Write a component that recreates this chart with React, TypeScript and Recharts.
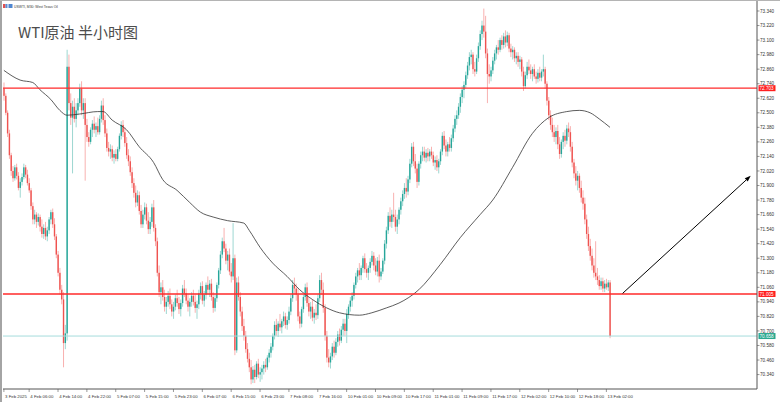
import React from 'react';
import { ComposedChart, Bar, Line, XAxis, YAxis, ReferenceLine } from 'recharts';

// USWTI M30 bars, [open, high, low, close]
const feb03 = [
  [72.70, 72.75, 72.60, 72.64], [72.64, 72.66, 72.48, 72.50], [72.50, 72.52, 72.30, 72.33], [72.33, 72.36, 72.12, 72.15],
];
const feb04 = [
  [72.15, 72.17, 71.98, 72.02], [72.02, 72.06, 71.93, 71.96], [71.96, 72.07, 71.94, 72.05], [72.05, 72.08, 71.95, 71.98],
  [71.98, 72.01, 71.86, 71.88], [71.88, 71.96, 71.80, 71.93], [71.93, 72.00, 71.90, 71.97], [71.97, 72.08, 71.95, 72.05],
  [72.05, 72.07, 71.96, 71.99], [71.99, 72.03, 71.90, 71.92], [71.92, 71.96, 71.84, 71.86], [71.86, 71.88, 71.70, 71.73],
  [71.73, 71.76, 71.58, 71.62], [71.62, 71.70, 71.58, 71.66], [71.66, 71.68, 71.55, 71.60], [71.60, 71.67, 71.57, 71.64],
  [71.64, 71.66, 71.52, 71.56], [71.56, 71.62, 71.47, 71.50], [71.50, 71.58, 71.46, 71.55], [71.55, 71.60, 71.45, 71.48],
  [71.48, 71.56, 71.44, 71.53], [71.53, 71.64, 71.50, 71.62], [71.62, 71.70, 71.58, 71.68], [71.68, 71.71, 71.55, 71.58],
  [71.58, 71.63, 71.45, 71.48], [71.48, 71.50, 71.30, 71.33], [71.33, 71.36, 71.15, 71.18], [71.18, 71.22, 71.00, 71.04],
  [71.04, 71.08, 70.92, 70.96], [70.96, 71.02, 70.40, 70.60], [70.60, 70.75, 70.55, 70.68], [70.68, 73.02, 70.62, 72.88],
  [72.88, 72.98, 72.52, 72.58], [72.58, 72.66, 72.40, 72.46], [72.46, 72.60, 72.00, 72.55], [72.55, 72.62, 72.42, 72.45],
  [72.45, 72.58, 72.38, 72.52], [72.52, 72.62, 72.48, 72.58], [72.58, 72.74, 72.55, 72.70], [72.70, 72.76, 72.48, 72.52],
  [72.52, 72.62, 72.45, 72.58], [72.58, 72.62, 71.94, 72.40], [72.40, 72.45, 72.26, 72.30], [72.30, 72.34, 72.22, 72.26],
  [72.26, 72.38, 72.24, 72.36], [72.36, 72.44, 72.30, 72.41],
];
const feb05 = [
  [72.41, 72.47, 72.33, 72.36], [72.36, 72.42, 72.30, 72.39], [72.39, 72.46, 72.32, 72.34], [72.34, 72.48, 72.32, 72.45],
  [72.45, 72.60, 72.42, 72.56], [72.56, 72.62, 72.40, 72.44], [72.44, 72.48, 72.30, 72.33], [72.33, 72.37, 72.18, 72.21],
  [72.21, 72.26, 72.14, 72.18], [72.18, 72.24, 72.12, 72.20], [72.20, 72.23, 72.10, 72.13], [72.13, 72.19, 72.08, 72.16],
  [72.16, 72.20, 72.10, 72.12], [72.12, 72.22, 72.10, 72.20], [72.20, 72.33, 72.18, 72.31], [72.31, 72.43, 72.28, 72.40],
  [72.40, 72.44, 72.30, 72.34], [72.34, 72.38, 72.22, 72.25], [72.25, 72.30, 72.12, 72.15], [72.15, 72.20, 72.06, 72.10],
  [72.10, 72.14, 71.98, 72.01], [72.01, 72.05, 71.88, 71.92], [71.92, 71.96, 71.80, 71.84], [71.84, 71.90, 71.72, 71.76],
  [71.76, 71.86, 71.73, 71.82], [71.82, 71.85, 71.66, 71.69], [71.69, 71.74, 71.55, 71.58], [71.58, 71.70, 71.55, 71.66],
  [71.66, 71.76, 71.62, 71.72], [71.72, 71.75, 71.58, 71.61], [71.61, 71.68, 71.50, 71.54], [71.54, 71.64, 71.50, 71.60],
  [71.60, 71.75, 71.56, 71.72], [71.72, 71.78, 71.52, 71.55], [71.55, 71.58, 71.40, 71.44], [71.44, 71.47, 71.15, 71.18],
  [71.18, 71.24, 70.98, 71.02], [71.02, 71.10, 70.92, 71.06], [71.06, 71.12, 70.95, 70.98], [70.98, 71.04, 70.86, 70.90],
  [70.90, 70.98, 70.84, 70.94], [70.94, 71.03, 70.90, 70.99], [70.99, 71.05, 70.88, 70.92], [70.92, 70.96, 70.82, 70.86],
  [70.86, 70.94, 70.80, 70.90], [70.90, 71.00, 70.87, 70.97],
];
const feb06 = [
  [70.97, 71.04, 70.90, 70.93], [70.93, 70.98, 70.84, 70.88], [70.88, 70.96, 70.82, 70.93], [70.93, 71.08, 70.90, 71.05],
  [71.05, 71.12, 70.98, 71.01], [71.01, 71.05, 70.92, 70.95], [70.95, 71.00, 70.86, 70.90], [70.90, 70.97, 70.82, 70.94],
  [70.94, 71.02, 70.90, 70.99], [70.99, 71.04, 70.91, 70.94], [70.94, 71.00, 70.85, 70.89], [70.89, 70.95, 70.80, 70.92],
  [70.92, 71.04, 70.88, 71.01], [71.01, 71.10, 70.96, 71.07], [71.07, 71.11, 70.92, 70.95], [70.95, 71.03, 70.90, 71.00],
  [71.00, 71.10, 70.96, 71.08], [71.08, 71.15, 71.00, 71.04], [71.04, 71.12, 70.98, 71.09], [71.09, 71.13, 70.95, 70.98],
  [70.98, 71.02, 70.85, 70.89], [70.89, 71.00, 70.86, 70.97], [70.97, 71.10, 70.94, 71.08], [71.08, 71.22, 71.05, 71.20],
  [71.20, 71.36, 71.17, 71.33], [71.33, 71.47, 71.30, 71.44], [71.44, 71.55, 71.35, 71.38], [71.38, 71.42, 71.25, 71.28],
  [71.28, 71.36, 71.20, 71.33], [71.33, 71.38, 71.16, 71.19], [71.19, 71.26, 71.10, 71.15], [71.15, 71.59, 71.12, 71.30],
  [71.30, 71.33, 70.50, 70.54], [70.54, 71.14, 70.52, 71.10], [71.10, 71.15, 70.95, 70.98], [70.98, 71.02, 70.82, 70.86],
  [70.86, 70.90, 70.70, 70.74], [70.74, 70.80, 70.62, 70.66], [70.66, 70.70, 70.52, 70.55], [70.55, 70.60, 70.44, 70.47],
  [70.47, 70.52, 70.36, 70.40], [70.40, 70.46, 70.26, 70.30], [70.30, 70.41, 70.27, 70.38], [70.38, 70.42, 70.27, 70.32],
  [70.32, 70.45, 70.30, 70.43], [70.43, 70.47, 70.31, 70.34],
];
const feb07 = [
  [70.34, 70.40, 70.28, 70.36], [70.36, 70.42, 70.30, 70.39], [70.39, 70.45, 70.34, 70.42], [70.42, 70.47, 70.36, 70.40],
  [70.40, 70.50, 70.38, 70.48], [70.48, 70.55, 70.44, 70.52], [70.52, 70.60, 70.48, 70.57], [70.57, 70.68, 70.54, 70.66],
  [70.66, 70.78, 70.63, 70.75], [70.75, 70.80, 70.66, 70.70], [70.70, 70.78, 70.65, 70.76], [70.76, 70.84, 70.70, 70.73],
  [70.73, 70.80, 70.68, 70.78], [70.78, 70.86, 70.74, 70.82], [70.82, 70.85, 70.72, 70.75], [70.75, 70.82, 70.71, 70.79],
  [70.79, 70.90, 70.76, 70.86], [70.86, 71.00, 70.83, 70.97], [70.97, 71.12, 70.94, 71.08], [71.08, 71.14, 71.00, 71.05],
  [71.05, 71.09, 70.95, 71.00], [71.00, 71.05, 70.78, 70.82], [70.82, 70.86, 70.72, 70.76], [70.76, 70.90, 70.73, 70.88],
  [70.88, 71.00, 70.85, 70.98], [70.98, 71.09, 70.95, 71.06], [71.06, 71.10, 70.90, 70.93], [70.93, 70.98, 70.82, 70.86],
  [70.86, 70.94, 70.80, 70.90], [70.90, 70.96, 70.78, 70.81], [70.81, 70.88, 70.76, 70.85], [70.85, 70.92, 70.79, 70.83],
  [70.83, 71.00, 70.80, 70.97], [70.97, 71.16, 70.94, 71.12], [71.12, 71.18, 71.00, 71.04], [71.04, 71.10, 70.85, 70.89],
  [70.89, 70.92, 70.62, 70.66], [70.66, 70.70, 70.44, 70.48], [70.48, 70.55, 70.40, 70.44], [70.44, 70.52, 70.39, 70.49],
  [70.49, 70.60, 70.46, 70.57], [70.57, 70.62, 70.48, 70.52], [70.52, 70.64, 70.50, 70.61], [70.61, 70.70, 70.57, 70.67],
  [70.67, 70.72, 70.58, 70.62], [70.62, 70.74, 70.60, 70.71], [70.71, 70.80, 70.66, 70.76], [70.76, 70.80, 70.66, 70.70],
];
const feb10 = [
  [70.70, 70.88, 70.60, 70.84], [70.84, 70.92, 70.80, 70.90], [70.90, 70.98, 70.86, 70.95], [70.95, 71.02, 70.90, 70.99],
  [70.99, 71.10, 70.96, 71.08], [71.08, 71.18, 71.05, 71.15], [71.15, 71.22, 71.10, 71.20], [71.20, 71.26, 71.12, 71.16],
  [71.16, 71.24, 71.12, 71.22], [71.22, 71.32, 71.18, 71.30], [71.30, 71.34, 71.18, 71.21], [71.21, 71.26, 71.14, 71.18],
  [71.18, 71.24, 71.12, 71.22], [71.22, 71.30, 71.18, 71.27], [71.27, 71.36, 71.24, 71.32], [71.32, 71.35, 71.20, 71.24],
  [71.24, 71.30, 71.16, 71.19], [71.19, 71.31, 71.15, 71.28], [71.28, 71.33, 71.10, 71.15], [71.15, 71.22, 71.12, 71.19],
  [71.19, 71.30, 71.17, 71.28], [71.28, 71.45, 71.25, 71.42], [71.42, 71.56, 71.38, 71.53], [71.53, 71.68, 71.50, 71.65],
  [71.65, 71.72, 71.56, 71.60], [71.60, 71.70, 71.55, 71.66], [71.66, 71.84, 71.60, 71.64], [71.64, 71.70, 71.52, 71.56],
  [71.56, 71.66, 71.50, 71.62], [71.62, 71.72, 71.58, 71.70], [71.70, 71.80, 71.66, 71.77], [71.77, 71.86, 71.73, 71.83],
  [71.83, 71.92, 71.79, 71.88], [71.88, 71.96, 71.80, 71.85], [71.85, 71.98, 71.82, 71.95], [71.95, 72.12, 71.92, 72.08],
  [72.08, 72.25, 72.05, 72.22], [72.22, 72.26, 72.06, 72.10], [72.10, 72.16, 72.00, 72.04], [72.04, 72.08, 71.88, 71.93],
  [71.93, 72.10, 71.90, 72.08], [72.08, 72.18, 72.04, 72.15], [72.15, 72.22, 72.10, 72.18], [72.18, 72.22, 72.10, 72.13],
  [72.13, 72.20, 72.09, 72.17], [72.17, 72.21, 72.10, 72.14], [72.14, 72.20, 72.10, 72.18], [72.18, 72.22, 72.12, 72.15],
];
const feb11 = [
  [72.15, 72.18, 72.06, 72.09], [72.09, 72.14, 72.03, 72.11], [72.11, 72.15, 72.02, 72.05], [72.05, 72.12, 72.00, 72.10],
  [72.10, 72.20, 72.07, 72.18], [72.18, 72.34, 72.15, 72.31], [72.31, 72.35, 72.20, 72.23], [72.23, 72.28, 72.14, 72.18],
  [72.18, 72.26, 72.14, 72.24], [72.24, 72.30, 72.18, 72.21], [72.21, 72.32, 72.18, 72.29], [72.29, 72.40, 72.26, 72.37],
  [72.37, 72.48, 72.34, 72.45], [72.45, 72.52, 72.40, 72.48], [72.48, 72.58, 72.45, 72.55], [72.55, 72.66, 72.50, 72.63],
  [72.63, 72.72, 72.58, 72.69], [72.69, 72.76, 72.62, 72.73], [72.73, 72.84, 72.70, 72.81], [72.81, 72.92, 72.78, 72.89],
  [72.89, 73.00, 72.85, 72.96], [72.96, 73.02, 72.90, 72.98], [72.98, 73.00, 72.82, 72.86], [72.86, 72.92, 72.80, 72.84],
  [72.84, 72.98, 72.82, 72.95], [72.95, 73.08, 72.92, 73.05], [73.05, 73.18, 73.02, 73.15], [73.15, 73.26, 73.10, 73.22],
  [73.22, 73.36, 73.12, 73.17], [73.17, 73.30, 72.95, 72.99], [72.99, 73.03, 72.58, 72.82], [72.82, 72.90, 72.74, 72.80],
  [72.80, 72.88, 72.76, 72.85], [72.85, 72.96, 72.82, 72.93], [72.93, 73.02, 72.90, 72.99], [72.99, 73.06, 72.94, 73.04],
  [73.04, 73.10, 72.98, 73.02], [73.02, 73.12, 73.00, 73.10], [73.10, 73.14, 73.02, 73.06], [73.06, 73.16, 73.03, 73.13],
  [73.13, 73.18, 73.04, 73.08], [73.08, 73.17, 73.05, 73.14], [73.14, 73.16, 73.00, 73.03], [73.03, 73.07, 72.96, 73.00],
  [73.00, 73.05, 72.94, 73.02], [73.02, 73.04, 72.92, 72.95], [72.95, 73.00, 72.90, 72.97], [72.97, 73.00, 72.88, 72.92],
];
const feb12 = [
  [72.92, 72.97, 72.86, 72.94], [72.94, 72.96, 72.80, 72.84], [72.84, 72.88, 72.68, 72.72], [72.72, 72.84, 72.70, 72.81],
  [72.81, 72.92, 72.78, 72.88], [72.88, 72.94, 72.82, 72.85], [72.85, 72.90, 72.78, 72.82], [72.82, 72.88, 72.76, 72.86],
  [72.86, 72.90, 72.78, 72.80], [72.80, 72.84, 72.74, 72.78], [72.78, 72.86, 72.75, 72.83], [72.83, 72.88, 72.76, 72.79],
  [72.79, 72.86, 72.76, 72.84], [72.84, 72.98, 72.80, 72.86], [72.86, 72.88, 72.70, 72.74], [72.74, 72.76, 72.56, 72.60],
  [72.60, 72.63, 72.44, 72.48], [72.48, 72.52, 72.36, 72.40], [72.40, 72.46, 72.30, 72.34], [72.34, 72.40, 72.26, 72.30],
  [72.30, 72.38, 72.24, 72.35], [72.35, 72.40, 72.20, 72.24], [72.24, 72.30, 72.12, 72.16], [72.16, 72.28, 72.13, 72.26],
  [72.26, 72.34, 72.20, 72.31], [72.31, 72.36, 72.22, 72.27], [72.27, 72.40, 72.24, 72.37], [72.37, 72.42, 72.30, 72.34],
  [72.34, 72.39, 72.18, 72.22], [72.22, 72.26, 72.05, 72.09], [72.09, 72.12, 71.96, 72.00], [72.00, 72.06, 71.90, 71.94],
  [71.94, 72.02, 71.86, 71.98], [71.98, 72.00, 71.84, 71.88], [71.88, 71.94, 71.76, 71.80], [71.80, 71.86, 71.70, 71.75],
  [71.75, 71.80, 71.58, 71.62], [71.62, 71.66, 71.46, 71.50], [71.50, 71.56, 71.36, 71.40], [71.40, 71.46, 71.28, 71.32],
  [71.32, 71.38, 71.20, 71.24], [71.24, 71.30, 71.14, 71.18], [71.18, 71.44, 71.12, 71.15], [71.15, 71.22, 71.08, 71.12],
  [71.12, 71.16, 71.04, 71.07], [71.07, 71.14, 71.04, 71.11], [71.11, 71.14, 71.02, 71.05], [71.05, 71.12, 71.02, 71.09],
];
const feb13 = [
  [71.09, 71.13, 71.04, 71.06], [71.06, 71.12, 71.03, 71.10], [71.10, 71.12, 70.64, 70.658],
];

// moving average, [bar, value]
const maPoints: [number, number][] = [
  [0, 72.85], [9, 72.77], [16, 72.75], [20, 72.69], [26, 72.61], [31, 72.52], [35, 72.48], [42, 72.49],
  [52, 72.51], [55, 72.51], [60, 72.44], [68, 72.36], [75, 72.22], [83, 72.09], [88, 71.95], [96, 71.86],
  [103, 71.76], [109, 71.68], [116, 71.64], [124, 71.61], [133, 71.59], [136, 71.53], [142, 71.39], [149, 71.26],
  [157, 71.15], [164, 71.04], [171, 70.96], [179, 70.89], [186, 70.85], [197, 70.83], [204, 70.85], [212, 70.89],
  [219, 70.93], [230, 71.04], [242, 71.25], [253, 71.47], [264, 71.66], [271, 71.78], [282, 72.05], [293, 72.33],
  [302, 72.46], [312, 72.51], [319, 72.52], [325, 72.50], [330, 72.45], [336, 72.38],
];

const xTicks: [number, string][] = [
  [0, '3 Feb 2025'], [14, '4 Feb 06:00'], [30, '4 Feb 14:00'], [46, '4 Feb 22:00'], [62, '5 Feb 07:00'],
  [78, '5 Feb 15:00'], [94, '5 Feb 23:00'], [110, '6 Feb 07:00'], [126, '6 Feb 15:00'], [142, '6 Feb 23:00'],
  [158, '7 Feb 08:00'], [174, '7 Feb 16:00'], [190, '10 Feb 01:00'], [206, '10 Feb 09:00'], [222, '10 Feb 17:00'],
  [238, '11 Feb 01:00'], [254, '11 Feb 09:00'], [270, '11 Feb 17:00'], [286, '12 Feb 02:00'], [302, '12 Feb 10:00'],
  [318, '12 Feb 18:00'], [334, '13 Feb 02:00'],
];

const yTicks = [
  73.34, 73.22, 73.1, 72.98, 72.86, 72.74, 72.62, 72.5, 72.38, 72.26, 72.14, 72.02, 71.9,
  71.78, 71.66, 71.54, 71.42, 71.3, 71.18, 71.06, 70.94, 70.82, 70.7, 70.58, 70.46, 70.34,
];

const resistance = 72.703;
const support = 71.005;
const lastPrice = 70.658;
const arrowFrom = { bar: 343, price: 71.01 };
const arrowTo = { bar: 414, price: 71.98 };
const totalSlots = 418; // includes empty chart shift on the right

const UP = '#26a69a';
const DOWN = '#ef5350';

const candles = [...feb03, ...feb04, ...feb05, ...feb06, ...feb07, ...feb10, ...feb11, ...feb12, ...feb13];
const maMap = new Map(maPoints);
const tickLabel = new Map(xTicks);

const rows = Array.from({ length: totalSlots }, (_, i) => {
  const k = candles[i];
  return {
    i,
    range: k ? [k[2], k[1]] : undefined,
    o: k ? k[0] : null,
    h: k ? k[1] : null,
    l: k ? k[2] : null,
    c: k ? k[3] : null,
    ma: maMap.has(i) ? maMap.get(i) : null,
  };
});

function Candle(props: any) {
  const { x, y, width, height, payload } = props;
  if (!payload || payload.o == null) return null;
  const { o, h, l, c } = payload;
  const color = c >= o ? UP : DOWN;
  const top = Math.min(y, y + height);
  const hh = Math.abs(height);
  const span = h - l || 1;
  const k = hh / span;
  const yo = top + (h - o) * k;
  const yc = top + (h - c) * k;
  const cx = x + width / 2;
  const bw = 1.4;
  return (
    <g>
      <line x1={cx} x2={cx} y1={top} y2={top + hh} stroke={color} strokeOpacity={0.45} strokeWidth={1} />
      <rect x={cx - bw / 2} y={Math.min(yo, yc)} width={bw} height={Math.max(Math.abs(yc - yo), 0.8)} fill={color} />
    </g>
  );
}

const XTick = ({ x, y, payload }: any) => (
  <g>
    <line x1={x} x2={x} y1={y} y2={y + 3} stroke="#555" strokeWidth={0.6} />
    <text x={x + 1.2} y={y + 8.6} fontSize={4.3} fill="#333" fontFamily="Liberation Sans">
      {tickLabel.get(payload.value)}
    </text>
  </g>
);

const YTick = ({ x, y, payload }: any) => (
  <g>
    <line x1={x} x2={x + 2.5} y1={y} y2={y} stroke="#555" strokeWidth={0.6} />
    <text x={x + 3} y={y + 1.6} fontSize={4.6} fill="#333" fontFamily="Liberation Sans">
      {Number(payload.value).toFixed(3)}
    </text>
  </g>
);

const priceTag = (value: number, bg: string) => (props: any) => {
  const vb = props.viewBox;
  const x = vb.x + vb.width + 1.5;
  const y = vb.y;
  return (
    <g>
      <rect x={x} y={y - 3} width={17} height={6} fill={bg} />
      <text x={x + 1} y={y + 1.7} fontSize={4.6} fill="#fff" fontFamily="Liberation Sans">
        {value.toFixed(3)}
      </text>
    </g>
  );
};

const Arrow = (p: any) => {
  const { x1, y1, x2, y2 } = p;
  const a = Math.atan2(y2 - y1, x2 - x1);
  const len = 6;
  const half = 2.2;
  const bx = x2 - len * Math.cos(a);
  const by = y2 - len * Math.sin(a);
  const pts = [
    `${x2},${y2}`,
    `${bx + half * Math.sin(a)},${by - half * Math.cos(a)}`,
    `${bx - half * Math.sin(a)},${by + half * Math.cos(a)}`,
  ].join(' ');
  return (
    <g>
      <line x1={x1} y1={y1} x2={bx} y2={by} stroke="#000" strokeWidth={1} />
      <polygon points={pts} fill="#000" />
    </g>
  );
};

export default function App() {
  return (
    <div style={{ position: 'absolute', left: 0, top: 0, width: 780, height: 402, background: '#fff', overflow: 'hidden' }}>
      <ComposedChart
        width={780}
        height={402}
        data={rows}
        margin={{ top: 1, right: 0, bottom: 0, left: 3 }}
        barCategoryGap={0}
      >
        <XAxis
          dataKey="i"
          type="category"
          ticks={xTicks.map((t) => t[0])}
          interval={0}
          height={13}
          tickSize={0}
          tickMargin={0}
          tick={<XTick />}
          axisLine={{ stroke: '#555', strokeWidth: 1 }}
        />
        <YAxis
          orientation="right"
          type="number"
          domain={[70.221, 73.4225]}
          allowDataOverflow
          ticks={yTicks}
          interval={0}
          width={23}
          tickSize={0}
          tickMargin={0}
          tick={<YTick />}
          axisLine={{ stroke: '#555', strokeWidth: 1 }}
        />
        <ReferenceLine y={lastPrice} stroke="#a6dcdc" strokeWidth={1} label={priceTag(lastPrice, '#2aa890')} />
        <Bar dataKey="range" shape={<Candle />} isAnimationActive={false} />
        <Line
          dataKey="ma"
          type="monotone"
          stroke="#333"
          strokeWidth={0.8}
          dot={false}
          connectNulls
          isAnimationActive={false}
        />
        <ReferenceLine y={resistance} stroke="#ff2a2a" strokeWidth={1.3} label={priceTag(resistance, '#ff2020')} />
        <ReferenceLine y={support} stroke="#ff2a2a" strokeWidth={1.3} label={priceTag(support, '#ff2020')} />
        <ReferenceLine
          segment={[
            { x: arrowFrom.bar, y: arrowFrom.price },
            { x: arrowTo.bar, y: arrowTo.price },
          ]}
          stroke="#000"
          shape={Arrow}
        />
      </ComposedChart>
      <div style={{ position: 'absolute', left: 0, top: 0, width: 2, height: 402, background: '#a4a4a4' }} />
      <div style={{ position: 'absolute', left: 0, top: 0, width: 780, height: 1, background: '#b4b4b4' }} />
      <svg width={780} height={50} style={{ position: 'absolute', left: 0, top: 0 }}>
        <rect x={3} y={4} width={2.5} height={4} fill="#e05050" />
        <rect x={5.5} y={4} width={2} height={4} fill="#5b8fd6" />
        <rect x={8.5} y={4} width={4} height={4} fill="#4f86d0" />
        <text x={14} y={7.6} fontSize={3.4} fill="#333" fontFamily="Liberation Sans">
          USWTI, M30: West Texas Oil
        </text>
        <text x={18} y={38} fontSize={15} fill="#4d4d4d" fontFamily="'Noto Sans CJK SC', 'Noto Sans'">
          WTI原油 半小时图
        </text>
      </svg>
    </div>
  );
}
